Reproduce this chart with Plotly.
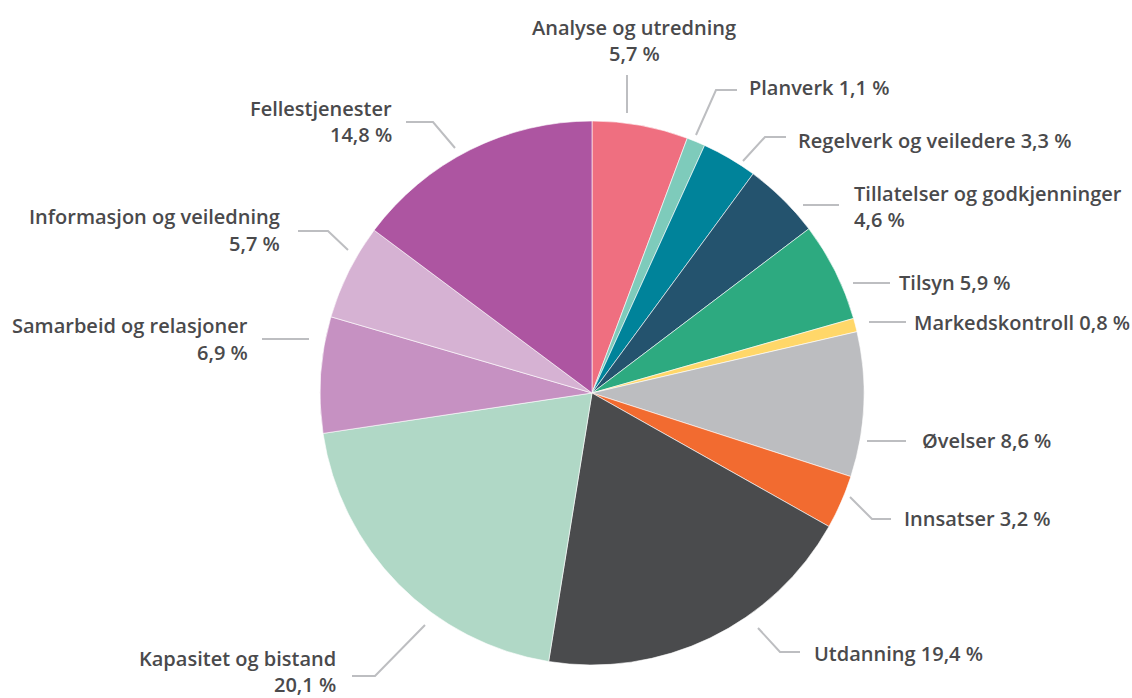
import plotly.graph_objects as go

# ---- data ----
categories = ["Analyse og utredning", "Planverk", "Regelverk og veiledere",
              "Tillatelser og godkjenninger", "Tilsyn", "Markedskontroll",
              "Øvelser", "Innsatser", "Utdanning", "Kapasitet og bistand",
              "Samarbeid og relasjoner", "Informasjon og veiledning",
              "Fellestjenester"]
values = [5.7, 1.1, 3.3, 4.6, 5.9, 0.8, 8.6, 3.2, 19.4, 20.1, 6.9, 5.7, 14.8]
colors = ["#EF6F80", "#7ECBBB", "#00839A", "#24536E", "#2DAA80", "#FFD769",
          "#BCBDC0", "#F26B30", "#4A4B4D", "#B0D8C6", "#C691C2", "#D6B2D3",
          "#AD55A1"]

W, H = 1132, 698

def fmt(v):
    return f"{v:.1f}".replace(".", ",") + " %"

# ---- label layout (pixel positions; styling only) ----
label_layout = [
    (True,  634, 27, "center", [(627, 113), (627, 75)]),
    (False, 748, 88, "left",   [(696, 135), (716, 90), (737, 90)]),
    (False, 797, 140, "left",  [(743, 161), (765, 137), (786, 137)]),
    (True,  853, 193, "left",  [(803, 205), (839, 205)]),
    (False, 898, 282, "left",  [(853, 283), (890, 283)]),
    (False, 913, 322, "left",  [(869, 322), (906, 322)]),
    (False, 921, 441, "left",  [(867, 441), (906, 441)]),
    (False, 903, 518, "left",  [(850, 497), (872, 519), (891, 519)]),
    (False, 813, 653, "left",  [(758, 628), (780, 652), (800, 652)]),
    (True,  337, 658, "right", [(425, 625), (375, 676), (352, 676)]),
    (True,  249, 326, "right", [(309, 339), (262, 339)]),
    (True,  281, 217, "right", [(348, 250), (328, 231), (298, 231)]),
    (True,  393, 108, "right", [(455, 148), (433, 122), (406, 122)]),
]
LINE_GAP = 26.5

fig = go.Figure(go.Pie(
    labels=categories, values=values, sort=False, direction="clockwise",
    rotation=0, marker=dict(colors=colors, line=dict(color="white", width=0.6)),
    textinfo="none", hoverinfo="label+value", showlegend=False,
    domain=dict(x=[320 / W, 864 / W], y=[1 - 665 / H, 1 - 121 / H]),
))

font = dict(family="Open Sans, Lato, sans-serif", size=20, color="#4A4A4C",
            weight=600)
ann = []
shapes = []
for cat, val, (split, lx, ly, xa, pts) in zip(categories, values, label_layout):
    texts = [cat, fmt(val)] if split else [f"{cat} {fmt(val)}"]
    for i, t in enumerate(texts):
        ann.append(dict(text=t, x=lx / W, y=1 - (ly + i * LINE_GAP) / H,
                        xref="paper", yref="paper", xanchor=xa, yanchor="middle",
                        showarrow=False, font=font, borderpad=0))
    path = "M " + " L ".join(f"{x / W},{1 - y / H}" for x, y in pts)
    shapes.append(dict(type="path", path=path, xref="paper", yref="paper",
                       line=dict(color="#BDBEC1", width=2)))

fig.update_layout(width=W, height=H, margin=dict(l=0, r=0, t=0, b=0),
                  paper_bgcolor="white", plot_bgcolor="white",
                  annotations=ann, shapes=shapes)
fig.write_html("out.html", config={"displayModeBar": False},
               post_script="document.body.style.margin='0';"
                           "document.body.style.overflow='hidden';")
